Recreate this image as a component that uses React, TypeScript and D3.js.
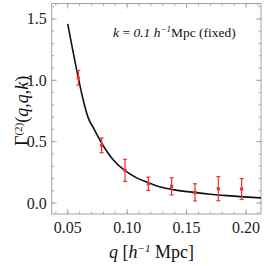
import React from "react";
import * as d3 from "d3";

const curveQ = [0.05, 0.0589, 0.0625, 0.067, 0.072, 0.0786, 0.0884, 0.0982, 0.108, 0.118, 0.128, 0.14, 0.156, 0.17, 0.184, 0.198, 0.2126];
const curveV = [1.46, 1.02, 0.86, 0.70, 0.605, 0.487, 0.35, 0.263, 0.205, 0.165, 0.13, 0.107, 0.087, 0.072, 0.060, 0.050, 0.042];

const dataQ = [0.0589, 0.0785, 0.0982, 0.1178, 0.1374, 0.1571, 0.1767, 0.1963];
const dataV = [1.02, 0.47, 0.266, 0.157, 0.136, 0.087, 0.117, 0.114];
const dataErr = [0.06, 0.06, 0.09, 0.054, 0.07, 0.07, 0.098, 0.085];

const xTicks = [0.05, 0.1, 0.15, 0.2];
const xTickLabels = ["0.05", "0.10", "0.15", "0.20"];
const yTicks = [0, 0.5, 1.0, 1.5];
const yTickLabels = ["0.0", "0.5", "1.0", "1.5"];

const serif = "'Liberation Serif', 'Times New Roman', 'DejaVu Serif', serif";

export default function App() {
  const L = 51.7, R = 261, T = 3.5, B = 214;
  const x = d3.scaleLinear().domain([0.0365, 0.2126]).range([L, R]);
  const y = d3.scaleLinear().domain([-0.0896, 1.626]).range([B, T]);
  const line = d3.line<number>().x((_, i) => x(curveQ[i])).y((_, i) => y(curveV[i])).curve(d3.curveMonotoneX);
  const xMinor = d3.range(40, 213, 10).map((v) => v / 1000);
  const yMinor = d3.range(0, 17).map((v) => v / 10);
  const tickColor = "#999";
  const ts = { fontFamily: serif };
  return (
    <svg width={266} height={266} style={{ position: "absolute", left: 0, top: 0, fontFamily: serif }}>
      <rect x={0} y={0} width={266} height={266} fill="#fff" />
      {xMinor.map((v, i) => (
        <g key={"xm" + i} stroke={tickColor} strokeWidth={0.8}>
          <line x1={x(v)} x2={x(v)} y1={B} y2={B - 2.5} />
          <line x1={x(v)} x2={x(v)} y1={T} y2={T + 2.5} />
        </g>
      ))}
      {yMinor.map((v, i) => (
        <g key={"ym" + i} stroke={tickColor} strokeWidth={0.8}>
          <line x1={L} x2={L + 2.5} y1={y(v)} y2={y(v)} />
          <line x1={R} x2={R - 2.5} y1={y(v)} y2={y(v)} />
        </g>
      ))}
      {xTicks.map((v, i) => (
        <g key={"xt" + i}>
          <line x1={x(v)} x2={x(v)} y1={B} y2={B - 5} stroke={tickColor} strokeWidth={0.8} />
          <line x1={x(v)} x2={x(v)} y1={T} y2={T + 5} stroke={tickColor} strokeWidth={0.8} />
          <text x={x(v)} y={233} fontSize={16} textAnchor="middle" fill="#222" style={ts}>{xTickLabels[i]}</text>
        </g>
      ))}
      {yTicks.map((v, i) => (
        <g key={"yt" + i}>
          <line x1={L} x2={L + 5} y1={y(v)} y2={y(v)} stroke={tickColor} strokeWidth={0.8} />
          <line x1={R} x2={R - 5} y1={y(v)} y2={y(v)} stroke={tickColor} strokeWidth={0.8} />
          <text x={L - 5} y={y(v) + 5.5} fontSize={16} textAnchor="end" fill="#222" style={ts}>{yTickLabels[i]}</text>
        </g>
      ))}
      <rect x={L} y={T} width={R - L} height={B - T} fill="none" stroke={tickColor} strokeWidth={0.9} />
      <path d={line(curveQ) || ""} fill="none" stroke="#111" strokeWidth={1.6} />
      {dataQ.map((q, i) => {
        const cx = x(q);
        const y1 = y(dataV[i] + dataErr[i]);
        const y2 = y(dataV[i] - dataErr[i]);
        return (
          <g key={"d" + i} stroke="#f03030" strokeWidth={1.2} fill="#f03030">
            <line x1={cx} x2={cx} y1={y1} y2={y2} />
            <line x1={cx - 2} x2={cx + 2} y1={y1} y2={y1} />
            <line x1={cx - 2} x2={cx + 2} y1={y2} y2={y2} />
            <rect x={cx - 1.6} y={y(dataV[i]) - 1.6} width={3.2} height={3.2} stroke="none" />
          </g>
        );
      })}
      <text x={113} y={37} fontSize={13.5} fill="#111" style={ts}>
        <tspan fontStyle="italic">k</tspan>
        <tspan> = </tspan>
        <tspan fontStyle="italic">0.1 h</tspan>
        <tspan fontStyle="italic" fontSize={9} dy={-5}>−1</tspan>
        <tspan dy={5}>Mpc (fixed)</tspan>
      </text>
      <text x={109} y={258} fontSize={18} fill="#111" style={ts}>
        <tspan fontStyle="italic">q</tspan>
        <tspan> [</tspan>
        <tspan fontStyle="italic">h</tspan>
        <tspan fontStyle="italic" fontSize={11} dy={-6}>−1</tspan>
        <tspan dy={6}> Mpc]</tspan>
      </text>
      <text transform="translate(28,146) rotate(-90)" fontSize={18} fill="#111" style={ts}>
        <tspan>Γ</tspan>
        <tspan fontSize={11} dy={-6}>(2)</tspan>
        <tspan dy={6}>(</tspan>
        <tspan fontStyle="italic">q</tspan>
        <tspan>,</tspan>
        <tspan fontStyle="italic">q</tspan>
        <tspan>,</tspan>
        <tspan fontStyle="italic">k</tspan>
        <tspan>)</tspan>
      </text>
    </svg>
  );
}
